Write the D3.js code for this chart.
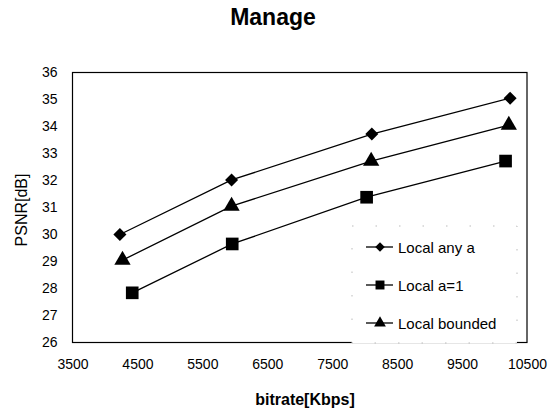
<!DOCTYPE html>
<html>
<head>
<meta charset="utf-8">
<script src="https://cdn.jsdelivr.net/npm/d3@7"></script>
<style>
  body { margin: 0; background: #fff; }
  text { font-family: "Liberation Sans", Arial, sans-serif; fill: #000; }
</style>
</head>
<body>
<svg width="557" height="412"></svg>
<script>
// data
var seriesNames = ["Local any a", "Local a=1", "Local bounded"];
var anyA_x    = [4230, 5950, 8110, 10240];
var anyA_y    = [30.0, 32.02, 33.72, 35.05];
var a1_x      = [4420, 5960, 8030, 10170];
var a1_y      = [27.84, 29.65, 31.38, 32.72];
var bounded_x = [4270, 5950, 8100, 10220];
var bounded_y = [29.05, 31.05, 32.72, 34.05];
var xTicks = [3500, 4500, 5500, 6500, 7500, 8500, 9500, 10500];
var yTicks = [26, 27, 28, 29, 30, 31, 32, 33, 34, 35, 36];

var svg = d3.select("svg"),
    margin = {top: 72.5, left: 72.5},
    width = 527 - margin.left,
    height = 342.5 - margin.top;

var x = d3.scaleLinear().domain([3500, 10500]).range([0, width]),
    y = d3.scaleLinear().domain([26, 36]).range([height, 0]);

var g = svg.append("g")
    .attr("transform", "translate(" + margin.left + "," + margin.top + ")");

// title
svg.append("text")
    .attr("x", 273).attr("y", 25)
    .attr("text-anchor", "middle")
    .style("font-size", "23px").style("font-weight", "bold")
    .text("Manage");

// plot frame
g.append("rect")
    .attr("width", width).attr("height", height)
    .attr("fill", "none").attr("stroke", "#000").attr("stroke-width", 1.2);

// axes (labels only, no tick marks like the original)
var xAxis = d3.axisBottom(x).tickValues(xTicks).tickFormat(d3.format("d")).tickSize(0).tickPadding(17);
var yAxis = d3.axisLeft(y).tickValues(yTicks).tickFormat(d3.format("d")).tickSize(0).tickPadding(15);

g.append("g").attr("transform", "translate(0," + height + ")").call(xAxis)
  .call(function(a) { a.select(".domain").remove(); })
  .selectAll("text").style("font-size", "14px").style("font-family", "Liberation Sans, Arial, sans-serif");

g.append("g").call(yAxis)
  .call(function(a) { a.select(".domain").remove(); })
  .selectAll("text").style("font-size", "14px").style("font-family", "Liberation Sans, Arial, sans-serif");

// axis titles
svg.append("text")
    .attr("x", 305).attr("y", 405)
    .attr("text-anchor", "middle")
    .style("font-size", "16px").style("font-weight", "bold")
    .text("bitrate[Kbps]");

svg.append("text")
    .attr("transform", "translate(27,210) rotate(-90)")
    .attr("text-anchor", "middle")
    .style("font-size", "16px")
    .text("PSNR[dB]");

// markers: diamond = square turned 45 degrees
var markers = [
  {type: d3.symbolSquare, rot: 45, size: 85, legendSize: 45},
  {type: d3.symbolSquare, rot: 0, size: 160, legendSize: 80},
  {type: d3.symbolTriangle, rot: 0, size: 115, legendSize: 60}
];

var series = [
  {name: seriesNames[0], xs: anyA_x, ys: anyA_y},
  {name: seriesNames[1], xs: a1_x, ys: a1_y},
  {name: seriesNames[2], xs: bounded_x, ys: bounded_y}
];

var line = d3.line()
    .x(function(d) { return x(d[0]); })
    .y(function(d) { return y(d[1]); });

series.forEach(function(s, k) {
  var m = markers[k];
  var pts = s.xs.map(function(v, i) { return [v, s.ys[i]]; });
  g.append("path")
      .datum(pts)
      .attr("d", line)
      .attr("fill", "none").attr("stroke", "#000").attr("stroke-width", 1.3);
  g.selectAll(null).data(pts).enter().append("path")
      .attr("transform", function(d) { return "translate(" + x(d[0]) + "," + y(d[1]) + ") rotate(" + m.rot + ")"; })
      .attr("d", d3.symbol().type(m.type).size(m.size))
      .attr("fill", "#000");
});

// legend box
var legend = svg.append("g");
legend.append("rect")
    .attr("x", 352).attr("y", 226).attr("width", 165).attr("height", 117)
    .attr("fill", "#fff").attr("stroke", "#bbb").attr("stroke-width", 1)
    .attr("stroke-dasharray", "1.5,22");

var legendY = [247, 285, 323];
series.forEach(function(s, i) {
  var ly = legendY[i], m = markers[i];
  legend.append("line")
      .attr("x1", 366).attr("x2", 393).attr("y1", ly).attr("y2", ly)
      .attr("stroke", "#000").attr("stroke-width", 1.3);
  legend.append("path")
      .attr("transform", "translate(380," + ly + ") rotate(" + m.rot + ")")
      .attr("d", d3.symbol().type(m.type).size(m.legendSize))
      .attr("fill", "#000");
  legend.append("text")
      .attr("x", 398).attr("y", ly + 5.5)
      .style("font-size", "15px")
      .text(s.name);
});
</script>
</body>
</html>
